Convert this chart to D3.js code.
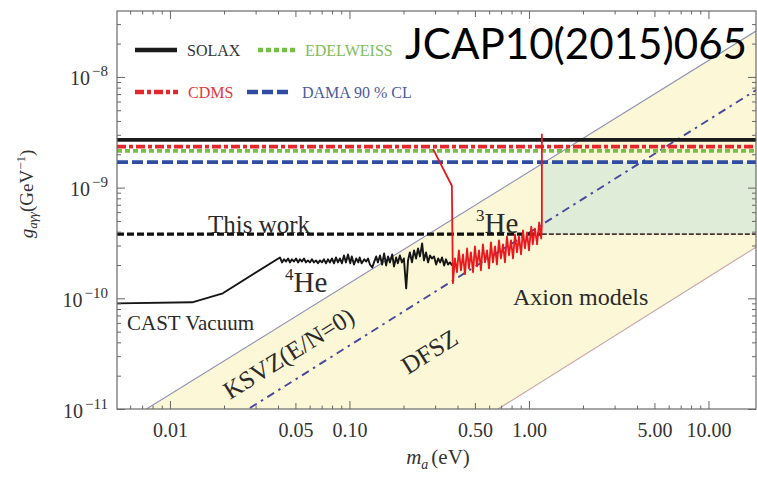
<!DOCTYPE html>
<html>
<head>
<meta charset="utf-8">
<script src="https://cdn.jsdelivr.net/npm/d3@7"></script>
<style>
  body { margin: 0; background: #fff; }
  svg { display: block; }
</style>
</head>
<body>
<svg id="chart" width="757" height="481"></svg>
<script>
// Axion–photon coupling limits g_aγγ (GeV^-1) versus axion mass m_a (eV)

// axis extents
const mRange = [0.00507, 18.4];
const gRange = [1e-11, 3.94e-8];

// tick labels
const xTickValues = [0.01, 0.05, 0.1, 0.5, 1, 5, 10];
const xTickLabels = ["0.01", "0.05", "0.10", "0.50", "1.00", "5.00", "10.00"];
const yTickValues = [1e-11, 1e-10, 1e-9, 1e-8];
const yTickExponents = ["−11", "−10", "−9", "−8"];

// horizontal limits
const limitNames = ["SOLAX", "CDMS", "EDELWEISS", "DAMA"];
const limitLabels = ["SOLAX", "CDMS", "EDELWEISS", "DAMA  90 % CL"];
const limitValues = [2.7e-9, 2.35e-9, 2.15e-9, 1.7e-9];
const thisWorkValue = 3.8e-10;

// CAST vacuum phase
const castVacuumM = [0.00507, 0.0133, 0.0197];
const castVacuumG = [0.90e-10, 0.92e-10, 1.11e-10];

// CAST 4He phase
const he4M = [0.0410, 0.0421, 0.0432, 0.0443, 0.0455, 0.0466, 0.0478, 0.0491, 0.0504, 0.0517,
  0.0530, 0.0544, 0.0558, 0.0572, 0.0587, 0.0602, 0.0618, 0.0634, 0.0651, 0.0668,
  0.0685, 0.0703, 0.0721, 0.0740, 0.0759, 0.0779, 0.0799, 0.0820, 0.0841, 0.0863,
  0.0885, 0.0908, 0.0932, 0.0956, 0.0981, 0.101, 0.103, 0.106, 0.109, 0.112,
  0.114, 0.117, 0.121, 0.124, 0.127, 0.130, 0.134, 0.137, 0.141, 0.144,
  0.148, 0.152, 0.156, 0.160, 0.164, 0.168, 0.173, 0.177, 0.182, 0.186,
  0.191, 0.196, 0.201, 0.207, 0.212, 0.217, 0.223, 0.229, 0.235, 0.241,
  0.247, 0.254, 0.260, 0.267, 0.274, 0.281, 0.288, 0.296, 0.304, 0.312,
  0.320, 0.328, 0.337, 0.345, 0.354, 0.363, 0.373];
const he4G = [2.34, 2.11, 2.25, 2.15, 2.29, 2.11, 2.25, 2.15, 2.29, 2.11,
  2.25, 2.15, 2.29, 2.11, 2.20, 2.11, 2.25, 2.11, 2.20, 2.07,
  2.20, 2.11, 2.25, 2.07, 2.25, 2.11, 2.29, 2.07, 2.34, 2.11,
  2.29, 2.07, 2.44, 2.11, 2.49, 2.07, 2.39, 2.02, 2.29, 2.11,
  2.34, 2.07, 2.25, 2.15, 2.29, 2.02, 1.90, 2.11, 2.39, 2.11,
  2.44, 2.02, 2.54, 1.98, 2.39, 2.11, 2.49, 1.94, 2.34, 2.07,
  2.44, 2.11, 2.29, 1.23, 2.20, 2.60, 2.11, 2.71, 2.29, 2.82,
  2.39, 3.13, 2.20, 2.60, 2.11, 2.44, 2.29, 2.39, 2.02, 2.29,
  2.11, 2.34, 1.98, 2.25, 2.02, 2.11, 1.98].map(v => v * 1e-10);

// CAST 3He phase
const he3M = [0.292, 0.372, 0.377, 0.387, 0.397, 0.407, 0.418, 0.429, 0.440, 0.452,
  0.463, 0.475, 0.488, 0.500, 0.513, 0.527, 0.540, 0.554, 0.569, 0.584,
  0.599, 0.614, 0.630, 0.647, 0.663, 0.681, 0.698, 0.717, 0.735, 0.754,
  0.774, 0.794, 0.815, 0.836, 0.858, 0.880, 0.903, 0.926, 0.950, 0.975,
  1.00, 1.03, 1.05, 1.08, 1.11, 1.14, 1.17, 1.18, 1.18];
const he3G = [22.4, 10.4, 1.37, 2.29, 1.72, 2.71, 1.79, 2.49, 1.65, 2.82,
  1.86, 2.60, 1.72, 2.94, 1.94, 2.71, 1.79, 3.07, 2.11, 2.71,
  1.86, 3.20, 2.11, 2.94, 2.02, 3.33, 2.29, 3.07, 2.11, 3.62,
  2.44, 3.33, 2.29, 3.77, 2.60, 3.62, 2.49, 4.10, 2.82, 3.93,
  2.71, 4.45, 3.07, 4.27, 3.07, 4.84, 3.47, 4.64, 30.7].map(v => v * 1e-10);

// axion model band edges and KSVZ line, [m, g] end points
const bandUpper = [[0.0074, 1e-11], [18.4, 2.6e-8]];
const bandLower = [[0.673, 1e-11], [18.4, 2.9e-10]];
const ksvzLine = [[0.0279, 1.02e-11], [18.4, 7.6e-9]];

// region probed beyond the 3He phase
const openRegionM = [1.18, 18.4];
const openRegionG = [3.8e-10, 1.7e-9];

const plot = { left: 117, right: 756, top: 11, bottom: 409 };
const serif = "'Liberation Serif', 'Times New Roman', serif";

const svg = d3.select("#chart");
const x = d3.scaleLog().domain(mRange).range([plot.left, plot.right]);
const y = d3.scaleLog().domain(gRange).range([plot.bottom, plot.top]);
const line = d3.line().x(d => x(d[0])).y(d => y(d[1]));

svg.append("defs").append("clipPath").attr("id", "plotClip")
  .append("rect")
  .attr("x", plot.left).attr("y", plot.top)
  .attr("width", plot.right - plot.left).attr("height", plot.bottom - plot.top);

const g = svg.append("g").attr("clip-path", "url(#plotClip)");

// yellow axion-model band
g.append("path")
  .attr("d", line([bandUpper[0], bandUpper[1], bandLower[1], bandLower[0]]) + "Z")
  .attr("fill", "#fcf7d6");

// green region
g.append("rect")
  .attr("x", x(openRegionM[0])).attr("y", y(openRegionG[1]))
  .attr("width", x(openRegionM[1]) - x(openRegionM[0]))
  .attr("height", y(openRegionG[0]) - y(openRegionG[1]))
  .attr("fill", "#dfecd8");

g.append("path").attr("d", line(bandUpper)).attr("fill", "none")
  .attr("stroke", "#8c8fb4").attr("stroke-width", 1.1);
g.append("path").attr("d", line(bandLower)).attr("fill", "none")
  .attr("stroke", "#c9a3a6").attr("stroke-width", 1.1);
g.append("path").attr("d", line(ksvzLine)).attr("fill", "none")
  .attr("stroke", "#44499c").attr("stroke-width", 1.9)
  .attr("stroke-dasharray", "8,5,2.5,5");

// horizontal limits
const limitStyles = {
  SOLAX: { color: "#1b1b1b", dash: null },
  CDMS: { color: "#e5262b", dash: "9,3,4,3" },
  EDELWEISS: { color: "#74c046", dash: "5,3" },
  DAMA: { color: "#2f4ea3", dash: "11,4" }
};
limitNames.forEach((name, i) => {
  g.append("path")
    .attr("d", line([[mRange[0], limitValues[i]], [mRange[1], limitValues[i]]]))
    .attr("fill", "none")
    .attr("stroke", limitStyles[name].color)
    .attr("stroke-width", 3.8)
    .attr("stroke-dasharray", limitStyles[name].dash);
});

// this work
const he3End = he3M[he3M.length - 1];
g.append("path")
  .attr("d", line([[mRange[0], thisWorkValue], [he3End, thisWorkValue]]))
  .attr("fill", "none").attr("stroke", "#111")
  .attr("stroke-width", 3.4).attr("stroke-dasharray", "7,3");
g.append("path")
  .attr("d", line([[he3End, thisWorkValue], [mRange[1], thisWorkValue]]))
  .attr("fill", "none").attr("stroke", "#4a3838")
  .attr("stroke-width", 1.6).attr("stroke-dasharray", "5,2");

// CAST curves
const blackCurve = d3.zip(castVacuumM.concat(he4M), castVacuumG.concat(he4G));
g.append("path").attr("d", line(blackCurve)).attr("fill", "none")
  .attr("stroke", "#151515").attr("stroke-width", 1.9).attr("stroke-linejoin", "round");
g.append("path").attr("d", line(d3.zip(he3M, he3G))).attr("fill", "none")
  .attr("stroke", "#e8181e").attr("stroke-width", 1.8).attr("stroke-linejoin", "round");

// ticks on all four sides, pointing inwards
function logTicks(scale, e0, e1) {
  const [a, b] = scale.domain();
  const out = [];
  for (let e = e0; e <= e1; e++) {
    for (let k = 1; k <= 9; k++) {
      const v = k * Math.pow(10, e);
      if (v >= a * 0.999 && v <= b * 1.001) out.push({ v, k });
    }
  }
  return out;
}
const xt = logTicks(x, -3, 1);
const yt = logTicks(y, -12, -8);
const xLen = k => (k === 1 ? 8 : k === 5 ? 6 : 3.5);
const yLen = k => (k === 1 ? 8 : 4);

function tickAxis(axisFn, scale, ticks, lenFn, transform, sign) {
  const ax = svg.append("g").attr("transform", transform)
    .call(axisFn(scale).tickValues(ticks.map(t => t.v)).tickFormat("").tickSize(0));
  ax.select(".domain").remove();
  ax.selectAll(".tick line").each(function (d) {
    const t = ticks.find(tt => tt.v === d);
    const attr = (axisFn === d3.axisBottom || axisFn === d3.axisTop) ? "y2" : "x2";
    d3.select(this).attr(attr, sign * lenFn(t.k)).attr("stroke", "#666").attr("stroke-width", 1);
  });
  return ax;
}
tickAxis(d3.axisBottom, x, xt, xLen, `translate(0,${plot.bottom})`, -1);
tickAxis(d3.axisTop, x, xt, xLen, `translate(0,${plot.top})`, 1);
tickAxis(d3.axisLeft, y, yt, yLen, `translate(${plot.left},0)`, 1);
tickAxis(d3.axisRight, y, yt, yLen, `translate(${plot.right},0)`, -1);

// frame
svg.append("rect")
  .attr("x", plot.left).attr("y", plot.top)
  .attr("width", plot.right - plot.left).attr("height", plot.bottom - plot.top)
  .attr("fill", "none").attr("stroke", "#6a6a6a").attr("stroke-width", 1.2);

// x tick labels
const xAx = svg.append("g").attr("transform", `translate(0,${plot.bottom})`)
  .call(d3.axisBottom(x).tickValues(xTickValues).tickSize(0)
    .tickFormat((d, i) => xTickLabels[i]));
xAx.select(".domain").remove();
xAx.selectAll(".tick text")
  .attr("y", 28).attr("dy", null)
  .attr("font-family", serif).attr("font-size", 20).attr("fill", "#333");

// y tick labels with superscript exponents
const yAx = svg.append("g").attr("transform", `translate(${plot.left},0)`)
  .call(d3.axisLeft(y).tickValues(yTickValues).tickSize(0).tickFormat(""));
yAx.select(".domain").remove();
yAx.selectAll(".tick").each(function (d, i) {
  const t = d3.select(this).select("text")
    .attr("x", -9).attr("y", 8).attr("dy", null)
    .attr("text-anchor", "end")
    .attr("font-family", serif).attr("font-size", 20).attr("fill", "#333");
  t.append("tspan").text("10");
  t.append("tspan").attr("dx", 2).attr("dy", -9).attr("font-size", 15).text(yTickExponents[i]);
});

// axis titles
const yTitle = svg.append("text")
  .attr("transform", "translate(33,194) rotate(-90)")
  .attr("text-anchor", "middle")
  .attr("font-family", serif).attr("font-size", 19).attr("fill", "#333");
yTitle.append("tspan").attr("font-style", "italic").text("g");
yTitle.append("tspan").attr("font-style", "italic").attr("font-size", 13).attr("dy", 4).text("aγγ");
yTitle.append("tspan").attr("dy", -4).text("(GeV");
yTitle.append("tspan").attr("font-size", 13).attr("dy", -8).text("−1");
yTitle.append("tspan").attr("dy", 8).text(")");

const xTitle = svg.append("text")
  .attr("x", 438).attr("y", 464)
  .attr("text-anchor", "middle")
  .attr("font-family", serif).attr("font-size", 21).attr("fill", "#333");
xTitle.append("tspan").attr("font-style", "italic").text("m");
xTitle.append("tspan").attr("font-style", "italic").attr("font-size", 14).attr("dy", 5).text("a");
xTitle.append("tspan").attr("dy", -5).attr("dx", 3).text("(eV)");

// in-plot labels
function label(text, px, py, size, rot) {
  return svg.append("text")
    .attr("transform", `translate(${px},${py})` + (rot ? ` rotate(${rot})` : ""))
    .attr("font-family", serif).attr("font-size", size).attr("fill", "#2a2a2a")
    .text(text);
}
label("This work", 208, 233, 25);
label("CAST Vacuum", 127, 330, 21);
label("Axion models", 513, 305, 24);
label("KSVZ(E/N=0)", 230, 400, 25, -32);
label("DFSZ", 408, 375, 25, -32);

function heLabel(mass, px, py) {
  const t = svg.append("text").attr("x", px).attr("y", py)
    .attr("font-family", serif).attr("font-size", 29).attr("fill", "#2a2a2a");
  t.append("tspan").attr("font-size", 17).attr("dy", -12).text(mass);
  t.append("tspan").attr("dy", 12).text("He");
}
heLabel("4", 285, 292);
heLabel("3", 476, 233);

// legend
const legendPos = {
  SOLAX: [135, 50], EDELWEISS: [258, 50], CDMS: [135, 92], DAMA: [247, 92]
};
const legendLineLen = { SOLAX: 42, EDELWEISS: 37, CDMS: 43, DAMA: 45 };
const legendTextColor = { SOLAX: "#333", EDELWEISS: "#7dbd5b", CDMS: "#e0393b", DAMA: "#4a5a9e" };
limitNames.forEach((name, i) => {
  const [lx, ly] = legendPos[name];
  svg.append("line")
    .attr("x1", lx).attr("x2", lx + legendLineLen[name])
    .attr("y1", ly).attr("y2", ly)
    .attr("stroke", limitStyles[name].color).attr("stroke-width", 4.5)
    .attr("stroke-dasharray", limitStyles[name].dash);
  svg.append("text")
    .attr("x", lx + legendLineLen[name] + 10).attr("y", ly + 6)
    .attr("font-family", serif).attr("font-size", 16)
    .attr("fill", legendTextColor[name])
    .text(limitLabels[i]);
});

// journal reference
svg.append("text")
  .attr("x", 405).attr("y", 59)
  .attr("font-family", "Lato, 'Open Sans', sans-serif").attr("font-size", 43)
  .attr("textLength", 342).attr("lengthAdjust", "spacingAndGlyphs")
  .attr("fill", "#000")
  .text("JCAP10(2015)065");
</script>
</body>
</html>
